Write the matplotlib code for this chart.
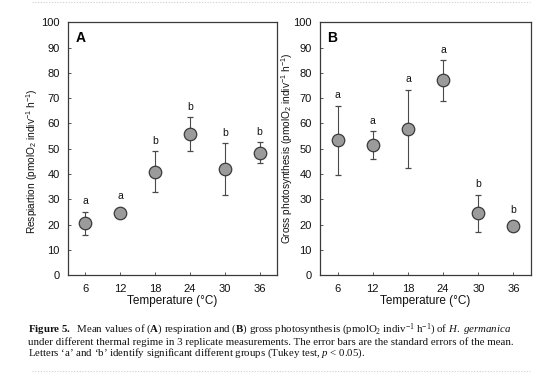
import matplotlib
matplotlib.use("Agg")
from matplotlib import pyplot as plt
from matplotlib.lines import Line2D

plt.rcParams["font.family"] = "Liberation Sans"
plt.rcParams["mathtext.fontset"] = "custom"
plt.rcParams["mathtext.rm"] = "Liberation Serif"
plt.rcParams["mathtext.it"] = "Liberation Serif:italic"
plt.rcParams["mathtext.bf"] = "Liberation Serif:bold"
plt.rcParams["mathtext.sf"] = "Liberation Sans"

temps = [6, 12, 18, 24, 30, 36]

resp_mean = [20.6, 24.5, 41.0, 55.7, 42.0, 48.5]
resp_err = [4.6, 0.0, 8.0, 6.7, 10.2, 4.0]
resp_letters = ["a", "a", "b", "b", "b", "b"]

photo_mean = [53.3, 51.4, 57.9, 77.0, 24.5, 19.3]
photo_err = [13.6, 5.6, 15.5, 8.0, 7.3, 0.0]
photo_letters = ["a", "a", "a", "a", "b", "b"]

edge = "#3a3a3a"

fig = plt.figure(figsize=(5.54, 3.76), dpi=100)
axA = fig.add_axes([0.1227, 0.2678, 0.3773, 0.673])
axB = fig.add_axes([0.5776, 0.2678, 0.3809, 0.673])


def panel(ax, mean, err, letters, tag, ylabel, label_xy):
    ax.errorbar(temps, mean, yerr=err, fmt="o", ms=9, mfc="#9b9b9b", mec=edge, mew=0.9,
                ecolor="#4a4a4a", elinewidth=0.8, capsize=2.2, capthick=0.8, zorder=3)
    for t, m, e, lab in zip(temps, mean, err, letters):
        top = max(m + e, m + 2.5)
        ax.annotate(lab, (t, top), xytext=(0, 4), textcoords="offset points",
                    ha="center", va="bottom", fontsize=7.5, color="#111111")
    ax.set_xlim(3, 39)
    ax.set_ylim(0, 100)
    ax.set_xticks(temps)
    ax.set_yticks(range(0, 101, 10))
    ax.tick_params(direction="in", length=2.5, width=0.7, colors="#555555",
                   labelcolor="#111111", labelsize=8, pad=6)
    for s in ax.spines.values():
        s.set_color(edge)
        s.set_linewidth(0.9)
    ax.set_xlabel("Temperature (°C)", fontsize=8.5, labelpad=1, color="#111111")
    ax.set_ylabel(ylabel, fontsize=7.3, color="#111111", va="center")
    ax.yaxis.set_label_coords(*label_xy)
    ax.text(0.035, 0.965, tag, transform=ax.transAxes, ha="left", va="top",
            fontsize=10, fontweight="bold")


panel(axA, resp_mean, resp_err, resp_letters, "A",
      r"Respiartion (pmolO$_\mathsf{2}$ indiv$^\mathsf{-1}$ h$^\mathsf{-1}$)", (-0.168, 0.45))
panel(axB, photo_mean, photo_err, photo_letters, "B",
      r"Gross photosynthesis (pmolO$_\mathsf{2}$ indiv$^\mathsf{-1}$ h$^\mathsf{-1}$)", (-0.152, 0.5))

# caption
cap = [
    r"$\mathbf{Figure\ 5.}$  Mean values of ($\mathbf{A}$) respiration and ($\mathbf{B}$) gross photosynthesis "
    r"(pmolO$_2$ indiv$^{-1}$ h$^{-1}$) of $\mathit{H.\ germanica}$",
    "under different thermal regime in 3 replicate measurements. The error bars are the standard errors of the mean.",
    r"Letters ‘a’ and ‘b’ identify significant different groups (Tukey test, $p$ < 0.05).",
]
for i, line in enumerate(cap):
    fig.text(28 / 554, 1 - (330 + i * 11.7) / 376, line, ha="left", va="center",
             fontsize=7.8, family="Liberation Serif", color="#111111")

for yy in (1 - 2 / 376, 1 - 371 / 376):
    fig.add_artist(Line2D([32 / 554, 530 / 554], [yy, yy], transform=fig.transFigure,
                          color="#cfcfcf", lw=0.8, ls=(0, (1, 1.5))))

fig.savefig("out.png", dpi=100)
